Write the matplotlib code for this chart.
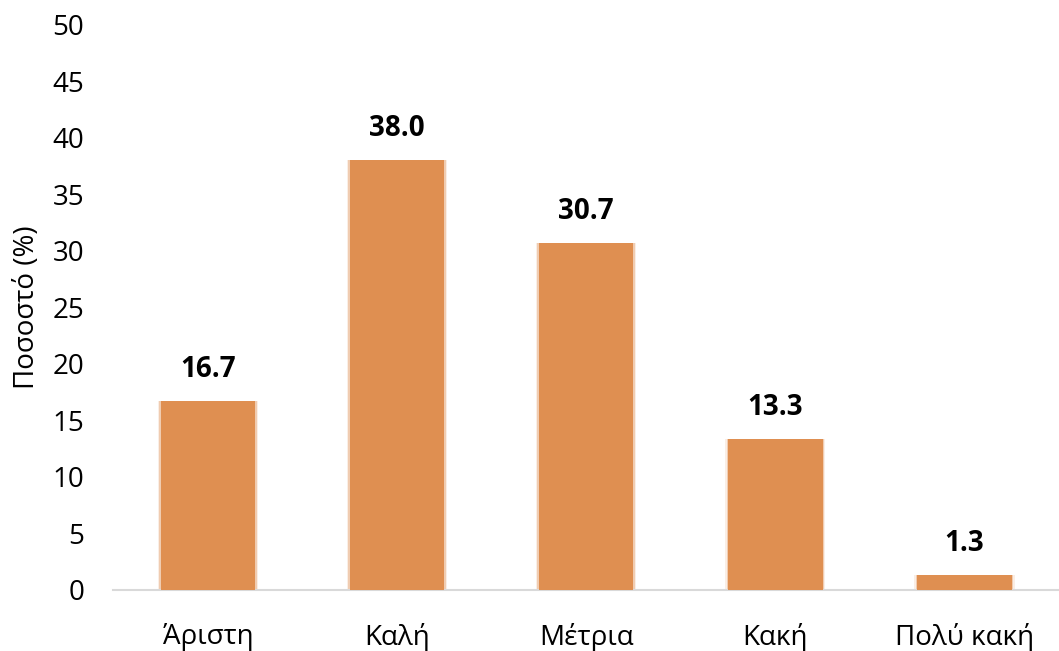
import matplotlib
matplotlib.use("Agg")
import matplotlib.pyplot as plt

# Κατανομή απαντήσεων (%)
categories = ["Άριστη", "Καλή", "Μέτρια", "Κακή", "Πολύ κακή"]
values = [16.7, 38.0, 30.7, 13.3, 1.3]
yticks = [0, 5, 10, 15, 20, 25, 30, 35, 40, 45, 50]

plt.rcParams["font.family"] = ["Open Sans", "DejaVu Sans"]

fig = plt.figure(figsize=(10.59, 6.51), dpi=100)
ax = fig.add_axes([0.107, 0.094, 0.893, 0.868])

x = list(range(len(categories)))
bar_color = "#DF8F51"
# soft halo around the bars
ax.bar(x, values, width=0.53, color=bar_color, alpha=0.15, zorder=2)
ax.bar(x, values, width=0.515, color=bar_color, alpha=0.35, zorder=2)
ax.bar(x, values, width=0.5, color=bar_color, zorder=3)

for xi, v in zip(x, values):
    ax.text(xi, v + 2.8, f"{v:.1f}", ha="center", va="center",
            fontsize=20, fontweight="bold", color="black")

ax.set_xlim(-0.5, 4.5)
ax.set_ylim(0, 50)
ax.set_yticks(yticks)
ax.set_xticks(x)
ax.set_xticklabels(categories)
ax.tick_params(axis="both", length=0, labelsize=20, colors="black")
ax.tick_params(axis="x", pad=24)
ax.tick_params(axis="y", pad=21)
ax.set_ylabel("Ποσοστό (%)", fontsize=20, labelpad=8)

for side in ["top", "right", "left"]:
    ax.spines[side].set_visible(False)
ax.spines["bottom"].set_color("#D9D9D9")
ax.spines["bottom"].set_linewidth(1.5)

fig.savefig("out.png", dpi=100, facecolor="white")
